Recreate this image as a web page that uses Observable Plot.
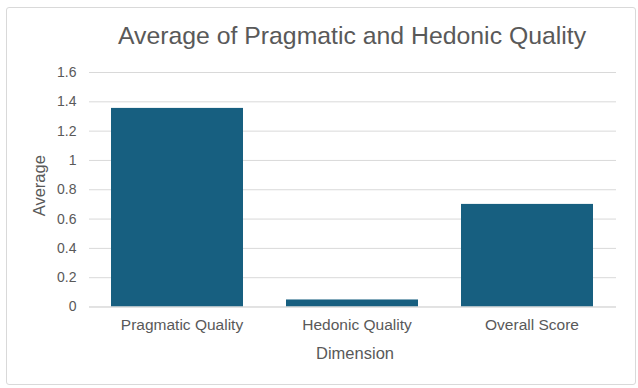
<!DOCTYPE html>
<html>
<head>
<meta charset="utf-8">
<script src="https://cdn.jsdelivr.net/npm/d3@7"></script>
<script src="https://cdn.jsdelivr.net/npm/@observablehq/plot@0.6"></script>
<style>
  html, body { margin: 0; padding: 0; background: #fff; }
  body { width: 638px; height: 388px; position: relative; overflow: hidden; font-family: "Liberation Sans", Arial, sans-serif; }
  #frame { position: absolute; left: 6px; top: 7px; width: 630px; height: 378px; box-sizing: border-box; border: 1px solid #d9d9d9; border-radius: 3px; }
  #title { position: absolute; left: 0; top: 21px; width: 638px; padding-left: 66px; box-sizing: border-box; text-align: center; font-size: 24.8px; line-height: 30px; color: #595959; }
  #chart { position: absolute; left: 0; top: 62px; }
</style>
</head>
<body>
<div id="frame"></div>
<div id="title">Average of Pragmatic and Hedonic Quality</div>
<div id="chart"></div>
<script>
const categories = ["Pragmatic Quality", "Hedonic Quality", "Overall Score"];
const averages = [1.355, 0.048, 0.70];
const yTicks = [0, 0.2, 0.4, 0.6, 0.8, 1, 1.2, 1.4, 1.6];
const yTickLabels = ["0", "0.2", "0.4", "0.6", "0.8", "1", "1.2", "1.4", "1.6"];
const xLabel = "Dimension";
const yLabel = "Average";

const data = categories.map((c, i) => ({ dimension: c, average: averages[i] }));
const textColor = "#595959";

const chart = Plot.plot({
  width: 638,
  height: 323,
  marginLeft: 89,
  marginRight: 22,
  marginTop: 10,
  marginBottom: 78.5,
  style: { fontFamily: "'Liberation Sans', Arial, sans-serif", color: textColor, background: "transparent" },
  x: { domain: categories, paddingInner: 0.245, paddingOuter: 0.123 },
  y: { domain: [0, 1.6] },
  marks: [
    Plot.gridY(yTicks, { stroke: "#d9d9d9", strokeOpacity: 1 }),
    Plot.barY(data, { x: "dimension", y: "average", fill: "#175f80" }),
    Plot.ruleY([0], { stroke: "#d9d9d9" }),
    Plot.axisY(yTicks, { tickSize: 0, tickPadding: 13, fontSize: 14, fill: textColor, tickFormat: (d) => yTickLabels[yTicks.indexOf(d)], label: null }),
    Plot.axisX({ tickSize: 0, tickPadding: 12, dx: 4.5, fontSize: 15.5, fill: textColor, label: null }),
    Plot.text([xLabel], { frameAnchor: "bottom", dx: 2, dy: 47, fontSize: 16.5, fill: textColor, lineAnchor: "middle" }),
    Plot.text([yLabel], { frameAnchor: "left", textAnchor: "middle", dx: -50, dy: -4, rotate: -90, fontSize: 16.5, fill: textColor, lineAnchor: "middle" })
  ]
});
document.getElementById("chart").appendChild(chart);
</script>
</body>
</html>
